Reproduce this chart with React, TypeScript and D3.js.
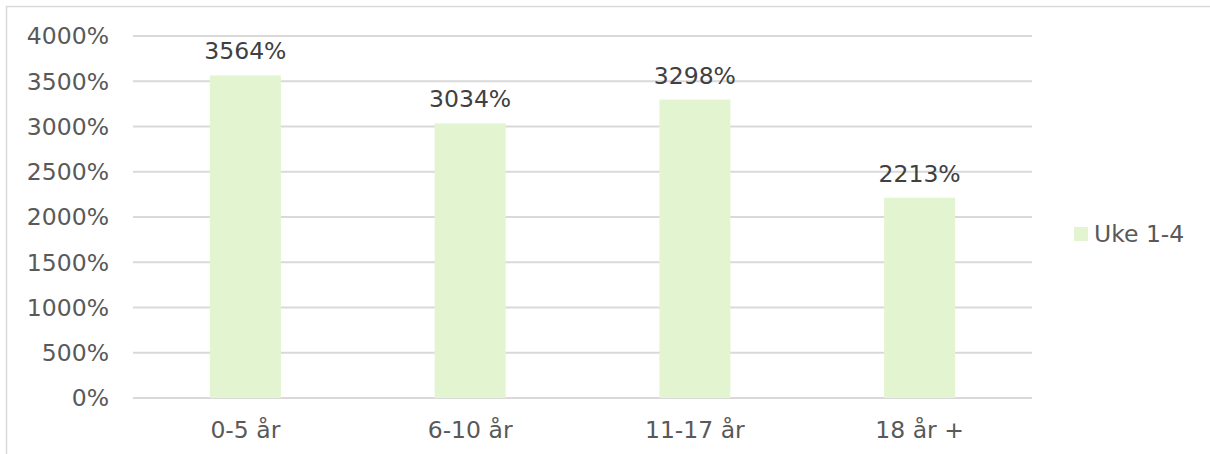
import React from "react";
import * as d3 from "d3";

const categories = ["0-5 år", "6-10 år", "11-17 år", "18 år +"];
const values = [3564, 3034, 3298, 2213];
const yTicks = [0, 500, 1000, 1500, 2000, 2500, 3000, 3500, 4000];
const seriesName = "Uke 1-4";

const W = 1210;
const H = 454;
const FONT = "'DejaVu Sans', Verdana, sans-serif";
const BAR = "#E3F5D0";
const GRID = "#D9D9D9";

export default function App() {
  const x = d3.scaleBand<string>().domain(categories).range([133, 1032]).paddingInner(0.684).paddingOuter(0.342);
  const y = d3.scaleLinear().domain([0, 4000]).range([398, 36]);
  return (
    <svg width={W} height={H} style={{ position: "absolute", left: 0, top: 0, background: "#fff" }} fontFamily={FONT}>
      <rect x={6.5} y={6.5} width={W + 10} height={H + 10} fill="#fff" stroke={GRID} strokeWidth={1.5} />
      {yTicks.map((t) => (
        <g key={t}>
          <line x1={133} x2={1032} y1={y(t)} y2={y(t)} stroke={GRID} strokeWidth={2} />
          <text x={109} y={y(t)} dy="0.36em" textAnchor="end" fontSize={23.5} fill="#595959">
            {t}%
          </text>
        </g>
      ))}
      {categories.map((c, i) => (
        <g key={c}>
          <rect x={x(c)} y={y(values[i])} width={x.bandwidth()} height={y(0) - y(values[i])} fill={BAR} />
          <text x={x(c)! + x.bandwidth() / 2} y={y(values[i]) - 16} textAnchor="middle" fontSize={23.5} fill="#404040">
            {values[i]}%
          </text>
          <text x={x(c)! + x.bandwidth() / 2} y={438} textAnchor="middle" fontSize={23.5} fill="#595959">
            {c}
          </text>
        </g>
      ))}
      <rect x={1074} y={227} width={14} height={14} fill={BAR} />
      <text x={1094} y={242} fontSize={23.5} fill="#595959">
        {seriesName}
      </text>
    </svg>
  );
}
